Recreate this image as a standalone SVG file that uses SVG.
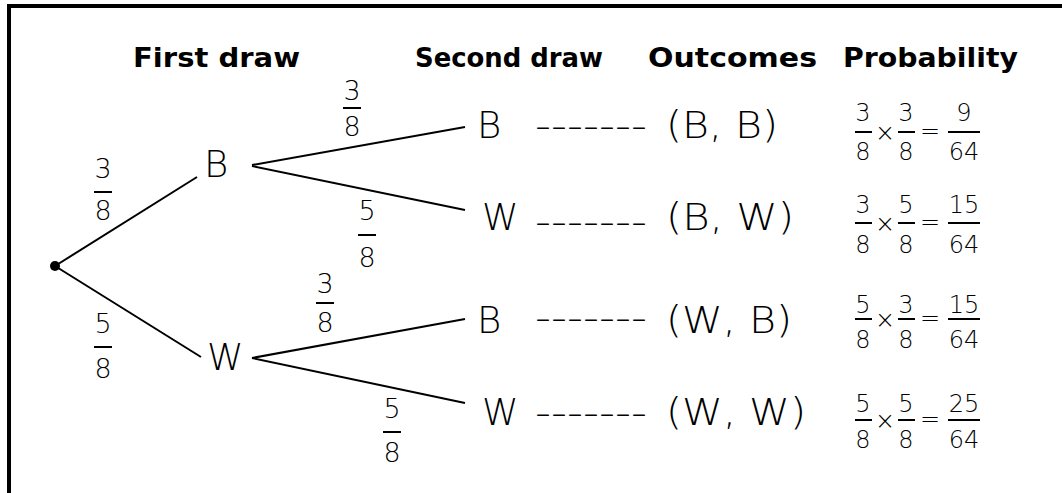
<svg xmlns="http://www.w3.org/2000/svg" width="1062" height="493" viewBox="0 0 1062 493">
<style>
.hdr{font-family:"DejaVu Sans",Verdana,sans-serif;font-weight:bold;font-size:27px;fill:#000}
.lt{font-family:"DejaVu Sans",Verdana,sans-serif;font-weight:200;font-size:37px;fill:#000}
.fr{font-family:"DejaVu Sans",Verdana,sans-serif;font-weight:200;font-size:27px;fill:#000;text-anchor:middle}
.pf{font-family:"DejaVu Sans",Verdana,sans-serif;font-weight:200;font-size:24px;fill:#000;text-anchor:middle}
.br{stroke:#000;stroke-width:2;fill:none}
.bar{stroke:#000;stroke-width:2}
</style>
<rect width="1062" height="493" fill="#fff"/>
<g id="frame" fill="#000" shape-rendering="crispEdges">
<rect x="7" y="4" width="1055" height="3.5"/>
<rect x="7" y="4" width="3.5" height="489"/>
</g>
<g id="headers">
<text class="hdr" x="133" y="67" textLength="167" lengthAdjust="spacingAndGlyphs">First draw</text>
<text class="hdr" x="415" y="67" textLength="188" lengthAdjust="spacingAndGlyphs">Second draw</text>
<text class="hdr" x="648" y="67" textLength="169" lengthAdjust="spacingAndGlyphs">Outcomes</text>
<text class="hdr" x="843" y="67" textLength="175" lengthAdjust="spacingAndGlyphs">Probability</text>
</g>
<g id="connectors">
<line class="br" x1="55" y1="266" x2="197" y2="177"/>
<line class="br" x1="55" y1="266" x2="201" y2="357"/>
<line class="br" x1="252" y1="165" x2="465" y2="127"/>
<line class="br" x1="252" y1="166" x2="465" y2="210"/>
<line class="br" x1="252" y1="358" x2="465" y2="319"/>
<line class="br" x1="252" y1="358" x2="465" y2="403"/>
</g>
<g id="branch-labels">
<g id="p-B"><text class="fr" x="103" y="178">3</text><line class="bar" x1="94" y1="192" x2="112" y2="192"/><text class="fr" x="103" y="220">8</text></g>
<g id="p-W"><text class="fr" x="103" y="333">5</text><line class="bar" x1="94" y1="347" x2="112" y2="347"/><text class="fr" x="103" y="378">8</text></g>
<g id="p-BB"><text class="fr" x="352" y="100">3</text><line class="bar" x1="343" y1="108" x2="361" y2="108"/><text class="fr" x="352" y="136">8</text></g>
<g id="p-BW"><text class="fr" x="367" y="220">5</text><line class="bar" x1="358" y1="235" x2="376" y2="235"/><text class="fr" x="367" y="267">8</text></g>
<g id="p-WB"><text class="fr" x="325" y="293">3</text><line class="bar" x1="316" y1="303" x2="334" y2="303"/><text class="fr" x="325" y="332">8</text></g>
<g id="p-WW"><text class="fr" x="392" y="418">5</text><line class="bar" x1="383" y1="432" x2="401" y2="432"/><text class="fr" x="392" y="462">8</text></g>
</g>
<g id="root"><circle cx="55" cy="266" r="5" fill="#000"/></g>
<g id="node-B1"><text class="lt" x="204" y="177">B</text></g>
<g id="node-W1"><text class="lt" x="207" y="370">W</text></g>
<g id="node-BB"><text class="lt" x="477" y="138">B</text><text class="lt" x="535" y="139" textLength="112" lengthAdjust="spacingAndGlyphs">-------</text><text class="lt" x="666" y="138" textLength="112" lengthAdjust="spacingAndGlyphs">(B, B)</text></g>
<g id="node-BW"><text class="lt" x="482" y="230">W</text><text class="lt" x="535" y="235" textLength="112" lengthAdjust="spacingAndGlyphs">-------</text><text class="lt" x="666" y="230" textLength="128" lengthAdjust="spacingAndGlyphs">(B, W)</text></g>
<g id="node-WB"><text class="lt" x="477" y="333">B</text><text class="lt" x="535" y="331" textLength="112" lengthAdjust="spacingAndGlyphs">-------</text><text class="lt" x="666" y="333" textLength="126" lengthAdjust="spacingAndGlyphs">(W, B)</text></g>
<g id="node-WW"><text class="lt" x="482" y="425">W</text><text class="lt" x="535" y="426" textLength="112" lengthAdjust="spacingAndGlyphs">-------</text><text class="lt" x="666" y="425" textLength="140" lengthAdjust="spacingAndGlyphs">(W, W)</text></g>
<g id="prob-BB">
<text class="pf" x="863" y="121">3</text><line class="bar" x1="855" y1="132" x2="872" y2="132"/><text class="pf" x="863" y="160">8</text>
<text class="pf" x="885" y="141">×</text>
<text class="pf" x="906" y="121">3</text><line class="bar" x1="898" y1="132" x2="915" y2="132"/><text class="pf" x="906" y="160">8</text>
<text class="pf" x="930" y="139">=</text>
<text class="pf" x="964" y="121">9</text><line class="bar" x1="948" y1="132" x2="980" y2="132"/><text class="pf" x="964" y="160">64</text>
</g>
<g id="prob-BW">
<text class="pf" x="863" y="213">3</text><line class="bar" x1="855" y1="223" x2="872" y2="223"/><text class="pf" x="863" y="253">8</text>
<text class="pf" x="885" y="232">×</text>
<text class="pf" x="906" y="213">5</text><line class="bar" x1="898" y1="223" x2="915" y2="223"/><text class="pf" x="906" y="253">8</text>
<text class="pf" x="930" y="230">=</text>
<text class="pf" x="964" y="213">15</text><line class="bar" x1="948" y1="223" x2="980" y2="223"/><text class="pf" x="964" y="253">64</text>
</g>
<g id="prob-WB">
<text class="pf" x="863" y="313">5</text><line class="bar" x1="855" y1="319" x2="872" y2="319"/><text class="pf" x="863" y="348">8</text>
<text class="pf" x="885" y="328">×</text>
<text class="pf" x="906" y="313">3</text><line class="bar" x1="898" y1="319" x2="915" y2="319"/><text class="pf" x="906" y="348">8</text>
<text class="pf" x="930" y="326">=</text>
<text class="pf" x="964" y="313">15</text><line class="bar" x1="948" y1="319" x2="980" y2="319"/><text class="pf" x="964" y="348">64</text>
</g>
<g id="prob-WW">
<text class="pf" x="863" y="412">5</text><line class="bar" x1="855" y1="420" x2="872" y2="420"/><text class="pf" x="863" y="448">8</text>
<text class="pf" x="885" y="429">×</text>
<text class="pf" x="906" y="412">5</text><line class="bar" x1="898" y1="420" x2="915" y2="420"/><text class="pf" x="906" y="448">8</text>
<text class="pf" x="930" y="427">=</text>
<text class="pf" x="964" y="412">25</text><line class="bar" x1="948" y1="420" x2="980" y2="420"/><text class="pf" x="964" y="448">64</text>
</g>
</svg>
